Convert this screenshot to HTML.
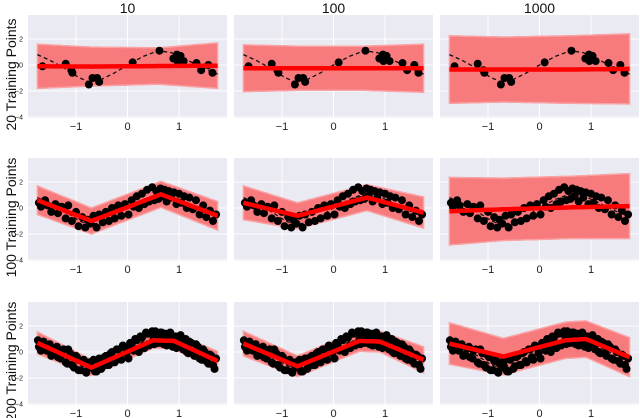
<!DOCTYPE html>
<html><head><meta charset="utf-8"><style>
html,body{margin:0;padding:0;background:#fff;}
svg{display:block;font-family:"Liberation Sans",sans-serif;}
</style></head><body>
<svg id="chart" width="640" height="418" viewBox="0 0 640 418"></svg>
<script>
const colTitles = ["10","100","1000"];
const rowTitles = ["20 Training Points","100 Training Points","200 Training Points"];
const xTicks = [-1,0,1];
const yTicks = [2,0,-2,-4];
const trueX = [-1.75,-1.5,-1.2,-0.95,-0.75,-0.5,-0.25,0,0.3,0.6,0.85,1.1,1.4,1.75];
const trueY = [0.8,0.35,-0.3,-0.95,-1.3,-1.1,-0.6,0.0,0.65,1.1,0.95,0.5,-0.1,-0.7];
const pts20X = [-1.65,-1.2,-1.09,-1.07,-0.75,-0.68,-0.59,-0.55,0.1,0.62,0.89,0.96,1.03,0.97,1.09,1.34,1.43,1.57,1.65];
const pts20Y = [-0.1,0.1,-0.4,-0.6,-1.5,-1.0,-1.0,-1.3,0.2,1.1,0.5,0.8,0.7,0.3,0.3,0.15,-0.4,0.0,-0.6];
const pts100X = [-1.72,-1.68,-1.6,-1.55,-1.48,-1.4,-1.35,-1.28,-1.2,-1.15,-1.08,-1.0,-0.95,-0.88,-0.82,-0.78,-0.72,-0.66,-0.6,-0.55,-0.48,-0.42,-0.36,-0.3,-0.25,-0.18,-0.12,-0.05,0.02,0.08,0.12,0.18,0.22,0.28,0.33,0.38,0.42,0.48,0.52,0.56,0.6,0.64,0.68,0.72,0.76,0.8,0.85,0.9,0.95,1.0,1.05,1.1,1.15,1.2,1.27,1.33,1.4,1.47,1.53,1.6,1.66,1.72];
const pts100Y = [0.4,0.1,0.6,0.2,-0.3,0.3,-0.4,0.1,-0.8,0.2,-1.0,-0.3,-1.4,-0.7,-1.5,-0.9,-1.2,-0.6,-1.5,-0.5,-1.1,-0.3,-1.0,0.0,-0.8,0.2,-0.6,0.3,-0.5,0.6,0.1,0.9,0.0,1.1,0.3,1.4,0.5,1.6,0.6,1.3,0.7,1.5,0.9,1.4,0.5,1.3,0.8,1.2,0.3,1.1,0.4,0.9,0.0,0.8,-0.1,0.6,-0.5,0.2,-0.7,-0.2,-1.0,-0.5];
const extraX = [-1.74,-1.7,-1.63,-1.57,-1.51,-1.44,-1.37,-1.3,-1.24,-1.17,-1.11,-1.04,-0.98,-0.91,-0.85,-0.8,-0.74,-0.69,-0.63,-0.57,-0.51,-0.45,-0.39,-0.33,-0.27,-0.21,-0.15,-0.09,-0.02,0.05,0.1,0.15,0.2,0.25,0.31,0.36,0.4,0.45,0.5,0.54,0.58,0.62,0.66,0.7,0.74,0.78,0.83,0.88,0.93,0.98,1.03,1.08,1.13,1.18,1.24,1.3,1.37,1.44,1.5,1.57,1.63,1.69];
const extraY = [0.9,0.3,0.8,0.1,0.6,-0.2,0.4,-0.5,0.2,-0.9,-0.1,-1.2,-0.4,-1.4,-0.6,-1.6,-0.8,-1.1,-1.5,-0.6,-1.3,-0.4,-1.0,-0.1,-0.7,0.2,-0.4,0.5,-0.1,0.7,0.3,1.0,0.2,1.2,0.5,1.5,0.6,1.4,0.9,1.6,0.7,1.2,1.5,0.6,1.4,0.8,1.5,0.4,1.2,0.6,1.3,0.2,1.0,-0.1,0.7,-0.3,0.4,-0.6,0.0,-0.9,-0.3,-1.3];
// [row][col]: knot x, mean, sd
const meanX = [[-1.75,-0.7,0.6,1.75],[-1.75,-0.7,0.65,1.75],[-1.75,-0.7,0.5,0.9,1.75]];
const meanY = [
 [[-0.1,-0.12,-0.08,-0.05],[-0.25,-0.25,-0.25,-0.25],[-0.35,-0.35,-0.35,-0.3]],
 [[0.6,-1.0,1.05,-0.6],[0.4,-0.6,0.8,-0.35],[-0.25,-0.1,0.05,0.15]],
 [[0.7,-1.2,0.9,0.85,-0.7],[0.65,-1.1,0.85,0.8,-0.6],[0.65,-0.35,0.9,1.0,-0.4]]];
const sdY = [
 [[1.7,1.5,1.4,1.75],[1.8,1.7,1.7,1.85],[2.6,2.5,2.6,2.7]],
 [[1.1,1.0,1.0,1.1],[1.3,1.0,1.0,1.2],[2.6,2.4,2.4,2.5]],
 [[0.85,0.6,0.6,0.6,0.75],[0.95,0.8,0.8,0.8,1.0],[1.6,1.4,1.4,1.4,1.5]]];
const NS = "http://www.w3.org/2000/svg";
const svg = document.getElementById('chart');
const colLeft = [28,234,440], rowTop = [15,158,302], PW = 199, PH = 103;
function mk(tag, attrs, parent){const e=document.createElementNS(NS,tag);for(const k in attrs)e.setAttribute(k,attrs[k]);(parent||svg).appendChild(e);return e;}
function interp(xs, ys, x){for(let i=0;i<xs.length-1;i++){if(x<=xs[i+1]){const t=(x-xs[i])/(xs[i+1]-xs[i]);return ys[i]+t*(ys[i+1]-ys[i]);}}return ys[ys.length-1];}
colTitles.forEach((t,c)=>{const e=mk('text',{x:colLeft[c]+PW/2,y:13,'text-anchor':'middle','font-size':14,fill:'#111'});e.textContent=t;

});
rowTitles.forEach((t,r)=>{const cy=rowTop[r]+PH/2+8;const e=mk('text',{x:0,y:0,transform:`translate(16,${cy}) rotate(-90)`,'text-anchor':'middle','font-size':14,fill:'#111'});e.textContent=t;

});
for(let r=0;r<3;r++)for(let c=0;c<3;c++){
 const L=colLeft[c],T=rowTop[r];
 const sx=x=>L+PW/2+x*51.5, sy=y=>T+50-y*13;
 const g=mk('g',{});
 
 
 mk('rect',{x:L,y:T,width:PW,height:PH,fill:'#eaeaf2'},g);
 xTicks.forEach(v=>{mk('line',{x1:sx(v),x2:sx(v),y1:T,y2:T+PH,stroke:'#fff','stroke-width':1},g);
  const t=mk('text',{x:sx(v),y:T+PH+12,'text-anchor':'middle','font-size':11,fill:'#222'},g);t.textContent=v<0?'\u2212'+(-v):v;
  
  });
 yTicks.forEach(v=>{mk('line',{x1:L,x2:L+PW,y1:sy(v),y2:sy(v),stroke:'#fff','stroke-width':1},g);
  if(c===0){const t=mk('text',{x:L-5,y:sy(v)+2.5,'text-anchor':'end','font-size':7,fill:'#222'},g);t.textContent=v<0?'\u2212'+(-v):v;
  
  }});
 const kx=meanX[r], km=meanY[r][c], ks=sdY[r][c];
 const up=[],lo=[],mid=[];
 for(let i=0;i<=70;i++){const x=-1.75+3.5*i/70;const m=interp(kx,km,x),s=interp(kx,ks,x);
  up.push(sx(x).toFixed(1)+','+sy(m+s).toFixed(1));lo.unshift(sx(x).toFixed(1)+','+sy(m-s).toFixed(1));mid.push(sx(x).toFixed(1)+','+sy(m).toFixed(1));}
 const band=mk('polygon',{points:up.concat(lo).join(' '),fill:'#f77a7d',stroke:'#f9a3a5','stroke-width':1.5},g);
 
 
 const tl=mk('polyline',{points:trueX.map((x,i)=>sx(x)+','+sy(trueY[i])).join(' '),fill:'none',stroke:'#111','stroke-width':1.3,'stroke-dasharray':'4,3'},g);
 
 
 let PX,PY;
 if(r===0){PX=pts20X;PY=pts20Y;}else if(r===1){PX=pts100X;PY=pts100Y;}else{PX=pts100X.concat(extraX);PY=pts100Y.concat(extraY);}
 PX.forEach((x,i)=>{const d=mk('circle',{cx:sx(x),cy:sy(PY[i]),r:4,fill:'#000'},g);
  
  });
 const ml=mk('polyline',{points:mid.join(' '),fill:'none',stroke:'#ff0000','stroke-width':4.5},g);
 
 
}
</script>
</body></html>
